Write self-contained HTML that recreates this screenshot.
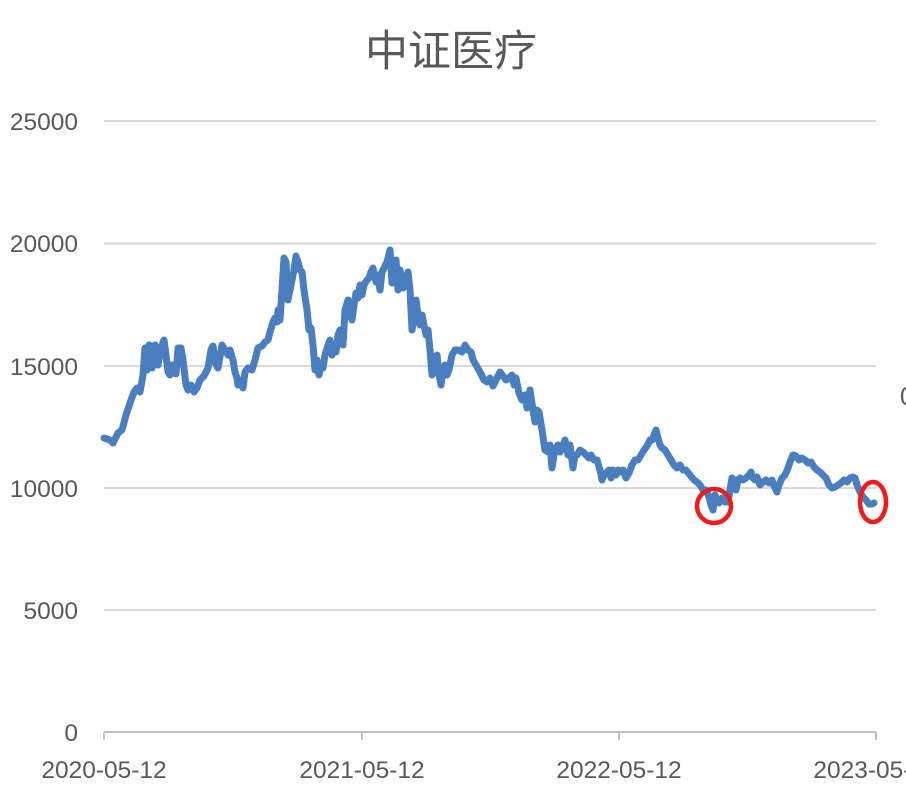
<!DOCTYPE html><html><head><meta charset="utf-8"><style>body{margin:0;background:#fff}svg{display:block}</style></head><body>
<svg width="906" height="794" xmlns="http://www.w3.org/2000/svg" font-family="'Liberation Sans','Noto Sans CJK SC',sans-serif">
<text x="451" y="66" text-anchor="middle" font-size="43" fill="#595959">中证医疗</text>
<g stroke="#d9d9d9" stroke-width="2">
<line x1="104" y1="121" x2="876" y2="121"/><line x1="104" y1="243.5" x2="876" y2="243.5"/><line x1="104" y1="366" x2="876" y2="366"/><line x1="104" y1="488" x2="876" y2="488"/><line x1="104" y1="610" x2="876" y2="610"/>
</g>
<line x1="104" y1="732" x2="876" y2="732" stroke="#bfbfbf" stroke-width="2"/>
<g stroke="#bfbfbf" stroke-width="2"><line x1="104" y1="732" x2="104" y2="740"/><line x1="362" y1="732" x2="362" y2="740"/><line x1="619" y1="732" x2="619" y2="740"/><line x1="876" y1="732" x2="876" y2="740"/></g>
<g font-size="24.5" fill="#595959" text-anchor="end">
<text x="78" y="130">25000</text><text x="78" y="252">20000</text><text x="78" y="375">15000</text><text x="78" y="497">10000</text><text x="78" y="619">5000</text><text x="78" y="741">0</text>
</g>
<g font-size="24.5" fill="#595959" text-anchor="middle">
<text x="104" y="778">2020-05-12</text><text x="362" y="778">2021-05-12</text><text x="619" y="778">2022-05-12</text><text x="876" y="778">2023-05-12</text>
</g>
<text x="900" y="405" font-size="25" fill="#595959">0</text>
<polyline fill="none" stroke="#4a7ebf" stroke-width="7" stroke-linejoin="round" stroke-linecap="round" points="104,438 110,440 113,443 118,433 122,430 126,415 130,403 134,392 137,388 140,392 143,375 145,348 147,370 149,345 152,368 155,345 158,365 161,348 164,340 166,355 168,372 170,375 172,365 174,372 176,374 178,348 181,348 183,360 186,385 188,390 191,385 194,392 197,388 200,380 204,376 208,368 211,350 213,346 215,362 218,368 222,345 225,350 228,355 230,350 233,360 235,372 237,378 238,385 240,380 243,388 245,372 248,368 252,370 255,360 258,348 262,346 265,342 268,340 270,332 273,322 275,318 277,322 278,310 280,320 282,290 284,258 286,262 288,300 290,290 292,280 294,270 296,256 298,262 300,270 302,272 304,290 307,310 309,330 311,328 313,345 315,370 317,360 319,375 321,365 323,368 325,355 328,345 330,340 332,355 334,348 336,352 338,335 340,330 343,345 345,310 348,300 350,315 352,320 354,305 356,293 358,298 360,285 362,295 364,285 367,280 369,278 371,272 373,268 376,282 378,275 380,290 382,272 385,266 387,262 390,250 392,283 394,272 396,260 398,290 400,270 403,288 406,280 408,272 410,290 412,330 414,318 416,300 418,315 420,325 422,315 424,325 426,335 428,330 430,350 432,375 434,365 435,360 437,355 439,375 441,385 443,370 445,365 447,375 449,370 452,355 455,350 458,350 462,352 465,345 468,350 471,352 473,360 476,365 480,372 484,380 487,382 490,378 493,386 496,380 500,372 503,376 506,380 509,378 512,375 514,385 516,378 519,393 522,400 525,395 527,408 530,390 533,410 535,422 537,410 539,412 542,430 545,450 548,452 550,445 552,468 554,455 556,448 558,445 560,452 562,448 565,440 568,455 570,445 573,468 575,455 577,455 580,450 583,452 586,455 589,458 591,455 594,460 597,460 600,470 602,480 604,475 606,473 609,470 611,478 613,470 616,475 618,470 621,472 623,470 626,478 629,473 632,465 635,460 638,460 641,455 644,450 647,446 650,440 652,440 654,435 656,430 658,438 660,445 662,448 665,450 668,455 671,460 674,465 677,468 680,465 683,470 686,470 690,475 694,480 697,482 700,485 703,490 706,490 709,497 711,505 713,510 715,495 717,500 719,503 722,498 725,502 728,502 730,490 732,478 734,480 736,490 738,480 740,478 743,480 746,478 749,475 751,472 753,478 755,480 757,477 760,485 763,482 766,480 769,483 772,480 775,488 777,492 779,485 782,478 785,475 788,468 790,462 793,455 796,456 799,460 802,458 805,460 808,463 811,462 814,467 817,470 820,472 823,475 826,478 829,485 832,488 835,487 838,485 841,483 844,480 847,482 850,478 853,477 855,478 857,485 860,492 863,497 866,500 869,504 872,504 874,503"/>
<ellipse cx="714" cy="506" rx="17" ry="17" fill="none" stroke="#ee1c1c" stroke-width="4.5"/>
<ellipse cx="873" cy="502" rx="13" ry="20" fill="none" stroke="#ee1c1c" stroke-width="4.5"/>
</svg>
</body></html>
